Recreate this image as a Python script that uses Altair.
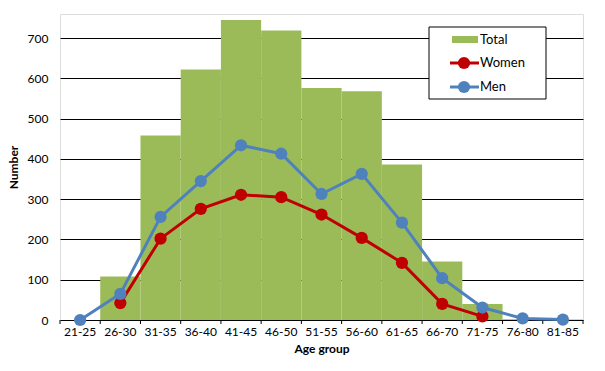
import altair as alt
import pandas as pd

groups = ["21-25", "26-30", "31-35", "36-40", "41-45", "46-50", "51-55",
          "56-60", "61-65", "66-70", "71-75", "76-80", "81-85"]
total = [0, 108, 458, 622, 745, 719, 576, 568, 386, 145, 40, 2, 1]
women = [None, 42, 202, 276, 311, 305, 262, 204, 142, 40, 9, None, None]
men = [0, 65, 256, 345, 434, 413, 313, 363, 242, 104, 31, 4, 1]
y_ticks = [0, 100, 200, 300, 400, 500, 600, 700]

W, H = 523, 306
FONT = "Lato"
GREEN = "#9BBB59"
RED = "#C00000"
BLUE = "#4F81BD"

df = pd.DataFrame({"group": groups, "Total": total, "Women": women, "Men": men})
lines_df = df.melt(id_vars="group", value_vars=["Women", "Men"],
                   var_name="series", value_name="value").dropna()

xscale = alt.Scale(domain=groups, paddingInner=0, paddingOuter=0)
yscale = alt.Scale(domain=[0, 760], nice=False)

bars = alt.Chart(df).mark_bar(color=GREEN, stroke=None).encode(
    x=alt.X("group:N", scale=xscale, sort=groups,
            axis=alt.Axis(title="Age group", labelAngle=0, ticks=False, domain=False,
                          labelPadding=6, titlePadding=6, labelFont=FONT, labelFontSize=12,
                          labelColor="#000000", titleFont=FONT, titleFontSize=12,
                          titleFontWeight="bold", titleColor="#000000")),
    y=alt.Y("Total:Q", scale=yscale,
            axis=alt.Axis(title="Number", values=y_ticks, grid=True, gridColor="#000000",
                          gridWidth=1, gridOpacity=1, ticks=False, domain=False,
                          labelPadding=12, titlePadding=7, labelFont=FONT, labelFontSize=12,
                          labelColor="#000000", titleFont=FONT, titleFontSize=12,
                          titleFontWeight="bold", titleColor="#000000")),
)

ticks = alt.Chart(df).mark_rule(color="#000000", strokeWidth=1).encode(
    x=alt.X("group:N", scale=xscale, sort=groups, bandPosition=0),
    y=alt.value(H), y2=alt.value(H + 4),
)
end_tick = alt.Chart(pd.DataFrame({"a": [0]})).mark_rule(color="#000000", strokeWidth=1).encode(
    x=alt.value(W), y=alt.value(H), y2=alt.value(H + 4)
)

color = alt.Color("series:N", scale=alt.Scale(domain=["Women", "Men"], range=[RED, BLUE]), legend=None)

line = alt.Chart(lines_df).mark_line(strokeWidth=3).encode(
    x=alt.X("group:N", scale=xscale, sort=groups),
    y=alt.Y("value:Q", scale=yscale),
    color=color,
    detail="series:N",
)
pts = alt.Chart(lines_df).mark_point(filled=True, size=150, opacity=1, shape="circle").encode(
    x=alt.X("group:N", scale=xscale, sort=groups),
    y=alt.Y("value:Q", scale=yscale),
    color=color,
)

one = pd.DataFrame({"a": [0]})
leg_box = alt.Chart(one).mark_rect(fill="white", stroke="#000000", strokeWidth=1).encode(
    x=alt.value(369), x2=alt.value(486), y=alt.value(13), y2=alt.value(85))
leg_total = alt.Chart(one).mark_rect(fill=GREEN).encode(
    x=alt.value(392), x2=alt.value(418), y=alt.value(22), y2=alt.value(29))
leg_wline = alt.Chart(one).mark_rule(color=RED, strokeWidth=3).encode(
    x=alt.value(390), x2=alt.value(419), y=alt.value(49))
leg_wpt = alt.Chart(one).mark_point(filled=True, size=150, opacity=1, color=RED).encode(
    x=alt.value(404), y=alt.value(49))
leg_mline = alt.Chart(one).mark_rule(color=BLUE, strokeWidth=3).encode(
    x=alt.value(390), x2=alt.value(419), y=alt.value(73))
leg_mpt = alt.Chart(one).mark_point(filled=True, size=150, opacity=1, color=BLUE).encode(
    x=alt.value(404), y=alt.value(73))
leg_texts = []
for label, yy in [("Total", 25.5), ("Women", 49), ("Men", 73)]:
    leg_texts.append(alt.Chart(one).mark_text(align="left", baseline="middle", font=FONT,
                                              fontSize=13, color="#000000").encode(
        x=alt.value(420), y=alt.value(yy), text=alt.value(label)))

chart = alt.layer(bars, ticks, end_tick, line, pts, leg_box, leg_total, leg_wline, leg_wpt,
                  leg_mline, leg_mpt, *leg_texts).properties(
    width=W, height=H,
    autosize=alt.AutoSizeParams(type="none"),
    padding={"left": 52, "top": 6, "right": 14, "bottom": 37},
).configure_view(stroke="#000000", strokeWidth=1).configure(background="white")

chart.save("out.html", embed_options={"renderer": "svg", "actions": False})
